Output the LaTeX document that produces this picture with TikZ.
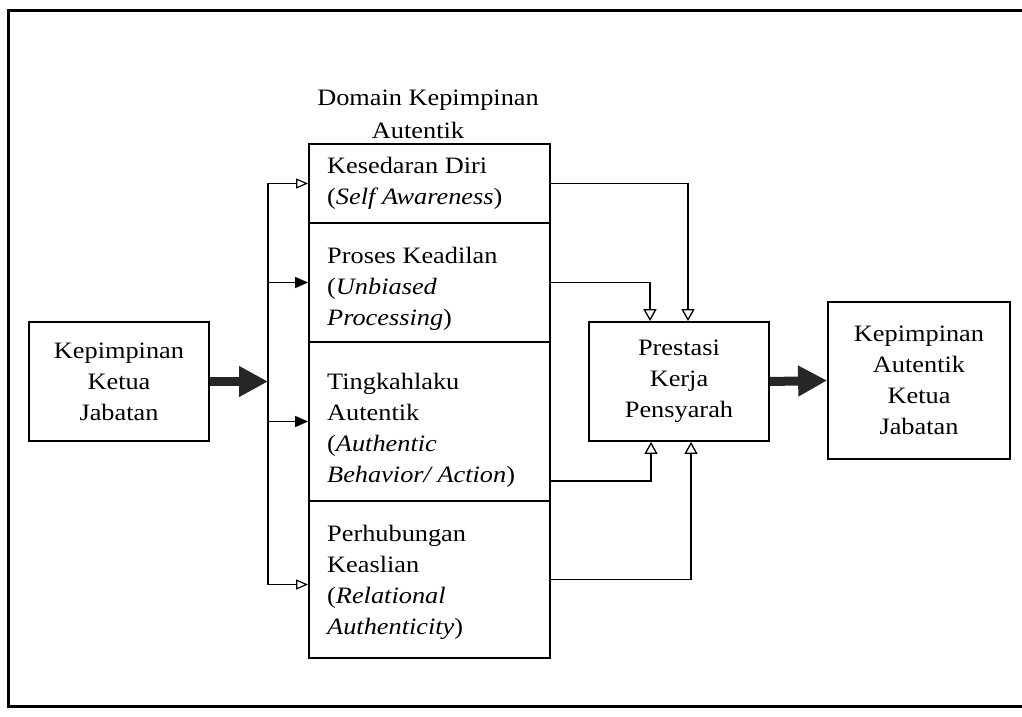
\documentclass[tikz,border=0pt]{standalone}
\usepackage{fontspec}
\setmainfont{Liberation Serif}[FakeStretch=1.12]
\usetikzlibrary{arrows.meta}
\begin{document}
\begin{tikzpicture}[x=1pt,y=-1pt,
  box/.style={draw, line width=1.8pt, inner sep=0pt},
  txt/.style={font=\fontsize{23.5}{31}\selectfont, align=center, inner sep=0pt},
  ltxt/.style={font=\fontsize{23.5}{31}\selectfont, align=left, inner sep=0pt, anchor=west},
  thinline/.style={line width=1.5pt},
  openhead/.style={-{Triangle[open,length=12pt,width=10pt,line width=1.2pt]}},
  fillhead/.style={-{Triangle[length=13pt,width=11pt]}},
  openup/.style={-{Triangle[open,length=12pt,width=13pt,line width=1.3pt]}},
  bigarrow/.style={line width=9pt, black!85, -{Triangle[length=29pt,width=29pt]}}
]
\useasboundingbox (0,0) rectangle (1022,717);
% outer frame
\draw[line width=3pt] (1022,11) -- (8,11) -- (8,706) -- (1022,706);

% title
\node[txt] (dom1) at (428,100) {Domain Kepimpinan};
\node[txt] (dom2) at (418,130) {Autentik};

% left box
\node[box, txt, minimum width=180pt, minimum height=119pt] (l) at (119,381.5) {Kepimpinan\\Ketua\\Jabatan};

% stack of domain boxes
\node[box, minimum width=241pt, minimum height=79pt]  (s1) at (429.5,183.5) {};
\node[box, minimum width=241pt, minimum height=119pt] (s2) at (429.5,282.5) {};
\node[box, minimum width=241pt, minimum height=159pt] (s3) at (429.5,421.5) {};
\node[box, minimum width=241pt, minimum height=157pt] (s4) at (429.5,579.5) {};

\node[ltxt] (t1) at (327,183.5) {Kesedaran Diri\\(\textit{Self Awareness})};
\node[ltxt] (t2) at (327,289) {Proses Keadilan\\(\textit{Unbiased}\\\textit{Processing})};
\node[ltxt] (t3) at (327,430) {Tingkahlaku\\Autentik\\(\textit{Authentic}\\\textit{Behavior/ Action})};
\node[ltxt] (t4) at (327,582) {Perhubungan\\Keaslian\\(\textit{Relational}\\\textit{Authenticity})};

% middle and right boxes
\node[box, txt, minimum width=180pt, minimum height=119pt] (p) at (679,381.5) {Prestasi\\Kerja\\Pensyarah};
\node[box, txt, minimum width=182pt, minimum height=157pt] (r) at (919,380.5) {Kepimpinan\\Autentik\\Ketua\\Jabatan};

% thick arrows
\coordinate (split) at (268,381.5);
\draw[bigarrow] (l.east) -- (split);
\draw[bigarrow] (p.east) -- (r.west);

% branches
\draw[thinline, openhead] (split) |- (s1.west);
\draw[thinline, fillhead] (split) |- (s2.west);
\draw[thinline, fillhead] (split) |- (s3.west);
\draw[thinline, openhead] (split) |- ([yshift=-5pt]s4.west);

% into Prestasi
\draw[thinline, openup] (s1.east) -| ([xshift=9pt]p.north);
\draw[thinline, openup] (s2.east) -| ([xshift=-29pt]p.north);
\draw[thinline, openup] ([yshift=21pt]s3.south east) -| ([xshift=-28pt]p.south);
\draw[thinline, openup] (s4.east) -| ([xshift=12pt]p.south);
\end{tikzpicture}
\end{document}
